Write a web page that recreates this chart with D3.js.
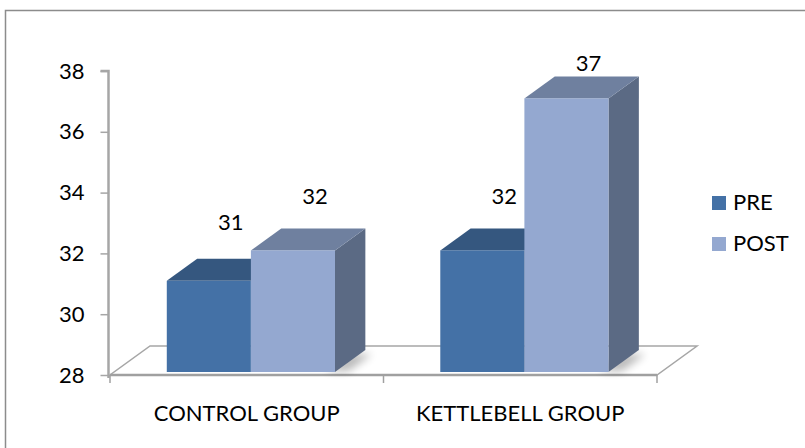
<!DOCTYPE html>
<html>
<head>
<meta charset="utf-8">
<script src="https://cdn.jsdelivr.net/npm/d3@7"></script>
<style>
  html, body { margin: 0; padding: 0; background: #fff; }
  svg { display: block; }
  text { font-family: Lato, "Open Sans", sans-serif; fill: #000; }
</style>
</head>
<body>
<svg id="chart" width="805" height="448"></svg>
<script>
const categories = ["CONTROL GROUP", "KETTLEBELL GROUP"];
const seriesNames = ["PRE", "POST"];
const preValues = [31, 32];
const postValues = [32, 37];
const yTicks = [28, 30, 32, 34, 36, 38];

const faceColors = {
  PRE:  { front: "#4471A6", top: "#35577F", side: "#2E4B70" },
  POST: { front: "#94A8D0", top: "#6F809F", side: "#5B6A84" }
};

const svg = d3.select("#chart");
const W = 805, H = 448;

// frame
svg.append("rect").attr("x", 5.5).attr("y", 10.5).attr("width", 830).attr("height", 470)
  .attr("fill", "#fff").attr("stroke", "#8c8c8c").attr("stroke-width", 1.5);

// scales
const y = d3.scaleLinear().domain([28, 38]).range([375, 71]);
const yLabel = d3.scaleLinear().domain([28, 38]).range([310, 44]);
const x0 = d3.scaleBand().domain(categories).range([110, 657]);
const groupW = x0.bandwidth() * 0.615;
const x1 = d3.scaleBand().domain(seriesNames).range([0, groupW]);

// oblique projection: z = depth in px (vertical rise)
const KX = 1.38;
const FLOOR_D = 29;
const Z0 = 3, Z1 = 25;
const P = (px, py, z) => [px + z * KX, py - z];
const pts = arr => arr.map(p => p.join(",")).join(" ");

const [xa, xb] = x0.range();
const yb = y(28);

// floor
svg.append("polygon")
  .attr("points", pts([P(xa, yb, 0), P(xb, yb, 0), P(xb, yb, FLOOR_D), P(xa, yb, FLOOR_D)]))
  .attr("fill", "#fff").attr("stroke", "#a6a6a6").attr("stroke-width", 1.5);

// y axis (front-left vertical)
const yAxis = d3.axisLeft(y).tickValues(yTicks).tickSize(8).tickPadding(16).tickFormat(d3.format("d"));
const gy = svg.append("g").attr("transform", `translate(${xa - 1.5},0)`).call(yAxis);
gy.select(".domain").attr("stroke", "#a6a6a6").attr("stroke-width", 2.5)
  .attr("d", `M-8,${y(38)}H0V${yb + 3}`);
gy.selectAll(".tick line").attr("stroke", "#a6a6a6").attr("stroke-width", 1.5);
gy.selectAll(".tick text").attr("font-size", 22).attr("font-family", "Lato, sans-serif").attr("fill", "#000");

// x axis (front floor edge)
const xAxis = d3.axisBottom(x0).tickSize(0).tickPadding(30);
const gx = svg.append("g").attr("transform", `translate(0,${yb})`).call(xAxis);
gx.select(".domain").attr("stroke", "#a0a0a0").attr("stroke-width", 2.5).attr("d", `M${xa},0H${xb}`);
gx.selectAll(".tick text").attr("font-size", 22).attr("font-family", "Lato, sans-serif").attr("fill", "#000");
// category boundary tick marks
const bounds = [xa, ...categories.slice(1).map(c => x0(c)), xb];
gx.selectAll("line.bound").data(bounds).enter().append("line")
  .attr("x1", d => d).attr("x2", d => d).attr("y1", 0).attr("y2", 8)
  .attr("stroke", "#a0a0a0").attr("stroke-width", 1.5);

// shadow filter
const defs = svg.append("defs");
defs.append("filter").attr("id", "blur").attr("x", "-50%").attr("y", "-50%").attr("width", "200%").attr("height", "200%")
  .append("feGaussianBlur").attr("stdDeviation", 4);

const data = categories.map((c, i) => ({
  cat: c,
  bars: [
    { s: "PRE", v: preValues[i] },
    { s: "POST", v: postValues[i] }
  ]
}));

const groups = svg.append("g").selectAll("g.cat").data(data).enter().append("g").attr("class", "cat");

// shadows on floor
groups.append("polygon")
  .attr("points", d => {
    const left = x0(d.cat) + (x0.bandwidth() - groupW) / 2;
    const right = left + groupW;
    return pts([P(right - 10, yb, Z0 + 1), P(right + 12, yb, Z0 + 1), P(right + 12, yb, Z1 - 4), P(right - 10, yb, Z1 - 4)]);
  })
  .attr("fill", "#000").attr("opacity", 0.28).attr("filter", "url(#blur)");

groups.each(function (d) {
  const g = d3.select(this);
  const left = x0(d.cat) + (x0.bandwidth() - groupW) / 2;
  d.bars.forEach(b => {
    const xl = left + x1(b.s), xr = xl + x1.bandwidth();
    const yt = y(b.v);
    const col = faceColors[b.s];
    // right side
    g.append("polygon")
      .attr("points", pts([P(xr, yb, Z0), P(xr, yb, Z1), P(xr, yt, Z1), P(xr, yt, Z0)]))
      .attr("fill", col.side);
    // top
    g.append("polygon")
      .attr("points", pts([P(xl, yt, Z0), P(xr, yt, Z0), P(xr, yt, Z1), P(xl, yt, Z1)]))
      .attr("fill", col.top);
    // front
    const f0 = P(xl, yt, Z0), f1 = P(xr, yb, Z0);
    g.append("rect")
      .attr("x", f0[0]).attr("y", f0[1]).attr("width", f1[0] - f0[0]).attr("height", f1[1] - f0[1])
      .attr("fill", col.front);
  });
  // data labels
  d.bars.forEach(b => {
    const xc = left + x1(b.s) + x1.bandwidth() / 2 + Z0 * KX + 22;
    g.append("text")
      .attr("x", xc).attr("y", yLabel(b.v))
      .attr("text-anchor", "middle").attr("font-size", 22)
      .text(b.v);
  });
});

// legend
const legend = svg.append("g").attr("transform", "translate(712,196)");
const li = legend.selectAll("g").data(seriesNames).enter().append("g")
  .attr("transform", (d, i) => `translate(0,${i * 41})`);
li.append("rect").attr("width", 14).attr("height", 14).attr("fill", d => faceColors[d].front);
li.append("text").attr("x", 21).attr("y", 14).attr("font-size", 22).text(d => d);
</script>
</body>
</html>
